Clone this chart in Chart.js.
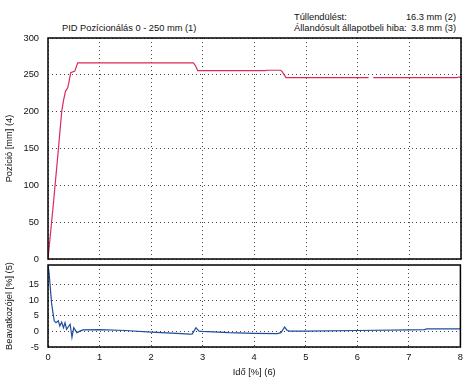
<!DOCTYPE html>
<html>
<head>
<meta charset="utf-8">
<script src="https://cdn.jsdelivr.net/npm/chart.js@4"></script>
<style>
body { margin: 0; background: #fff; }
#wrap { position: relative; width: 463px; height: 378px; font-family: "Liberation Sans", Arial, sans-serif; font-size: 9.3px; color: #111; }
.t { position: absolute; white-space: nowrap; line-height: 12px; }
canvas { position: absolute; left: 0; }
</style>
</head>
<body>
<div id="wrap">
  <div class="t" style="left:62px;top:22px">PID Pozícionálás 0 - 250 mm (1)</div>
  <div class="t" style="left:294px;top:11px">Túllendülést:</div>
  <div class="t" style="right:7px;top:11px">16.3 mm (2)</div>
  <div class="t" style="left:294px;top:22px">Állandósult állapotbeli hiba:</div>
  <div class="t" style="right:7px;top:22px">3.8 mm (3)</div>
  <canvas id="pos" width="463" height="265" style="top:0"></canvas>
  <canvas id="ctl" width="463" height="119" style="top:259px"></canvas>
</div>
<script>
// position (mm) vs time
const posTime  = [0, 0.005, 0.1, 0.2, 0.265, 0.3, 0.34, 0.38, 0.4, 0.44, 0.52, 0.575, 2.816, 2.86, 2.9, 4.2, 4.25, 4.5, 4.53, 4.61, 6.21, 6.22, 6.3, 7.92, 7.96, 8];
const posValue = [0, 0, 72, 148, 200, 215, 228, 232, 238, 253, 255, 266.3, 266.3, 262, 255.6, 255.6, 256.2, 256.2, 255, 246.2, 246.2, null, 246.2, 246.2, 247, 247];

// control signal (%) vs time
const ctlTime  = [0, 0.02, 0.07, 0.12, 0.155, 0.2, 0.23, 0.265, 0.3, 0.33, 0.36, 0.43, 0.465, 0.5, 0.56, 0.62, 0.68, 1.0, 1.5, 2.0, 2.5, 2.75, 2.8, 2.87, 2.93, 3.0, 3.5, 4.0, 4.45, 4.52, 4.59, 4.64, 4.7, 5.0, 6.0, 7.0, 7.3, 7.35, 8.0];
const ctlValue = [21.3, 19, 8.9, 3.4, 2.8, 3.4, 1.7, 3.0, 1.2, 2.8, 0.7, 2.3, -1.9, 1.2, -0.4, 0.1, 0.5, 0.6, 0.3, -0.2, -0.6, -0.9, -0.8, 1.2, 0.1, 0.0, -0.4, -0.6, -0.7, -0.4, 1.4, 0.3, 0.1, 0.1, 0.3, 0.5, 0.6, 0.8, 0.8];

const pts = (xs, ys) => xs.map((x, i) => ({ x: x, y: ys[i] }));
const font = { family: '"Liberation Sans", Arial, sans-serif', size: 9.3 };

const frame = {
  id: 'frame',
  afterDatasetsDraw(c) {
    const a = c.chartArea, ctx = c.ctx;
    ctx.save();
    ctx.strokeStyle = '#000';
    ctx.lineWidth = 1.5;
    ctx.strokeRect(a.left, a.top, a.width, a.height);
    ctx.restore();
  }
};

// invisible tick marks used as label spacing (ticks.padding would also pad the chart area)
const gridY = { color: '#444', drawTicks: true, tickLength: 9, tickColor: 'rgba(0,0,0,0)' };
const gridX = { color: '#444', drawTicks: true, tickLength: 5, tickColor: 'rgba(0,0,0,0)' };
const border = { display: false, dash: [1, 3] };

new Chart(document.getElementById('pos'), {
  type: 'line',
  data: { datasets: [{ data: pts(posTime, posValue), borderColor: '#dc2a5a', borderWidth: 1.2, pointRadius: 0, spanGaps: false }] },
  options: {
    responsive: false, animation: false,
    layout: { padding: { top: 38, right: 2, bottom: 6, left: 0 } },
    plugins: { legend: { display: false }, tooltip: { enabled: false } },
    scales: {
      x: { type: 'linear', min: 0, max: 8, ticks: { stepSize: 1, display: false }, grid: { color: '#444', drawTicks: false }, border: border,
           afterFit: s => { s.height = 0; } },
      y: { min: 0, max: 300, ticks: { stepSize: 50, font: font, color: '#111', padding: 0, autoSkip: false }, grid: gridY, border: border,
           title: { display: true, text: 'Pozíció [mm] (4)', font: font, color: '#111', padding: { top: 4, bottom: 0 } },
           afterFit: s => { s.width = 48; } }
    }
  },
  plugins: [frame]
});

new Chart(document.getElementById('ctl'), {
  type: 'line',
  data: { datasets: [{ data: pts(ctlTime, ctlValue), borderColor: '#1e4d9c', borderWidth: 1.2, pointRadius: 0 }] },
  options: {
    responsive: false, animation: false,
    layout: { padding: { top: 6, right: 2, bottom: 0, left: 0 } },
    plugins: { legend: { display: false }, tooltip: { enabled: false } },
    scales: {
      x: { type: 'linear', min: 0, max: 8, ticks: { stepSize: 1, font: font, color: '#111', padding: 0, maxRotation: 0, autoSkip: false }, grid: gridX, border: border,
           title: { display: true, text: 'Idő [%] (6)', font: font, color: '#111', padding: 0 },
           afterFit: s => { s.height = 31; } },
      y: { min: -5, max: 21.3, ticks: { stepSize: 5, font: font, color: '#111', padding: 0, autoSkip: false }, grid: gridY, border: border,
           afterBuildTicks: s => { s.ticks = s.ticks.filter(t => Math.abs(t.value % 5) < 1e-6); },
           title: { display: true, text: 'Beavatkozójel [%] (5)', font: font, color: '#111', padding: { top: 4, bottom: 0 } },
           afterFit: s => { s.width = 48; } }
    }
  },
  plugins: [frame]
});
</script>
</body>
</html>
